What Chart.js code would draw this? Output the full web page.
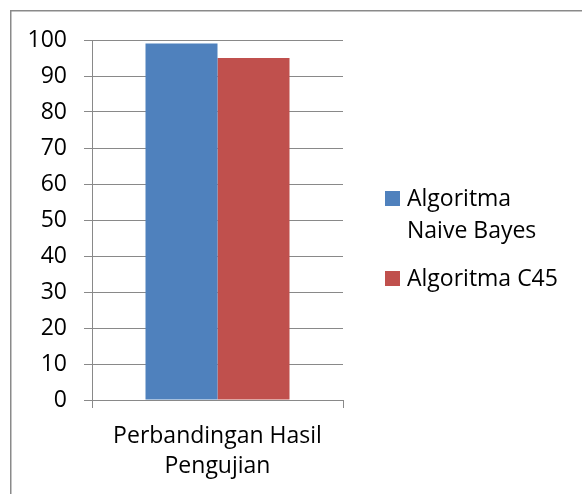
<!DOCTYPE html>
<html>
<head>
<meta charset="utf-8">
<script src="https://cdn.jsdelivr.net/npm/chart.js@4.4.1/dist/chart.umd.min.js"></script>
<style>
  html, body { margin: 0; padding: 0; background: #ffffff; }
  #wrap { position: relative; width: 582px; height: 494px; }
</style>
</head>
<body>
<div id="wrap"><canvas id="c" width="582" height="494"></canvas></div>
<script>
const categories = [['Perbandingan Hasil', 'Pengujian']];
const seriesNames = ['Algoritma Naive Bayes', 'Algoritma C45'];
const naiveBayes = [99];
const c45 = [95];
const yTicks = [0, 10, 20, 30, 40, 50, 60, 70, 80, 90, 100];

const FONT = '"Open Sans", "Liberation Sans", sans-serif';
const FSIZE = 23;
const GRID = '#898989';

const frame = {
  id: 'frame',
  beforeDraw(chart) {
    const ctx = chart.ctx;
    ctx.save();
    ctx.fillStyle = '#ffffff';
    ctx.fillRect(0, 0, chart.width, chart.height);
    ctx.strokeStyle = '#8a8a8a';
    ctx.lineWidth = 1.5;
    ctx.beginPath();
    ctx.moveTo(10.75, chart.height + 2);
    ctx.lineTo(10.75, 10.75);
    ctx.lineTo(chart.width + 2, 10.75);
    ctx.stroke();
    ctx.restore();
  }
};

const sideLegend = {
  id: 'sideLegend',
  afterDraw(chart) {
    const ctx = chart.ctx;
    ctx.save();
    ctx.font = FSIZE + 'px ' + FONT;
    ctx.textBaseline = 'alphabetic';
    ctx.textAlign = 'left';
    const markX = 385, textX = 407, maxW = 160, lineH = 32, gap = 48;
    let baseY = 206;
    chart.data.datasets.forEach(ds => {
      const words = ds.label.split(' ');
      const lines = [];
      let cur = '';
      words.forEach(w => {
        const t = cur ? cur + ' ' + w : w;
        if (ctx.measureText(t).width > maxW && cur) { lines.push(cur); cur = w; }
        else cur = t;
      });
      if (cur) lines.push(cur);
      ctx.fillStyle = ds.backgroundColor;
      ctx.fillRect(markX, baseY - 15, 15, 15);
      ctx.fillStyle = '#000000';
      lines.forEach((ln, i) => ctx.fillText(ln, textX, baseY + i * lineH));
      baseY += (lines.length - 1) * lineH + gap;
    });
    ctx.restore();
  }
};

new Chart(document.getElementById('c'), {
  type: 'bar',
  data: {
    labels: categories,
    datasets: [
      { label: seriesNames[0], data: naiveBayes, backgroundColor: '#4F81BD' },
      { label: seriesNames[1], data: c45, backgroundColor: '#C0504D' }
    ]
  },
  options: {
    responsive: false,
    animation: false,
    devicePixelRatio: 1,
    categoryPercentage: 144 / 251,
    barPercentage: 1,
    layout: { padding: { left: 0, top: 40, right: 239, bottom: 0 } },
    plugins: { legend: { display: false }, tooltip: { enabled: false } },
    scales: {
      x: {
        grid: { display: true, drawOnChartArea: false, color: GRID, tickLength: 8, offset: true },
        border: { display: true, color: GRID, width: 1 },
        ticks: { color: '#000', font: { family: FONT, size: FSIZE, lineHeight: 1.3 }, padding: 14, maxRotation: 0 },
        afterFit(s) { s.height = 94; }
      },
      y: {
        min: 0, max: 100,
        afterBuildTicks(s) { s.ticks = yTicks.map(v => ({ value: v })); },
        grid: { color: GRID, tickLength: 8 },
        border: { display: true, color: GRID, width: 1 },
        ticks: { color: '#000', font: { family: FONT, size: FSIZE }, padding: 17 },
        afterFit(s) { s.width = 92; }
      }
    }
  },
  plugins: [frame, sideLegend]
});
</script>
</body>
</html>
